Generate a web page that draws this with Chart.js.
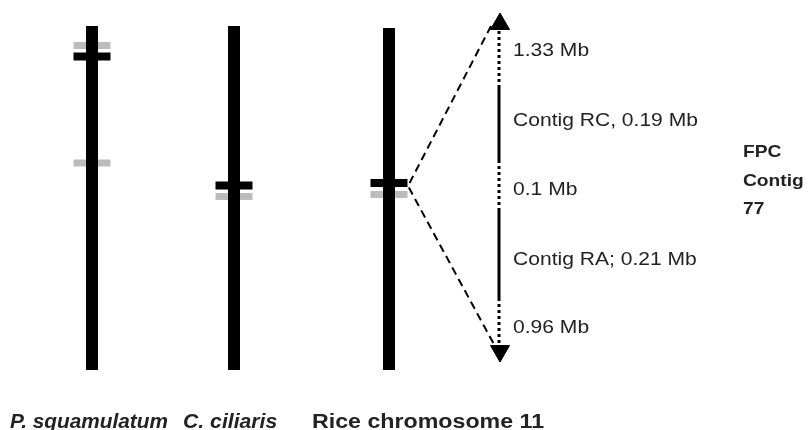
<!DOCTYPE html>
<html>
<head>
<meta charset="utf-8">
<script src="https://cdn.jsdelivr.net/npm/chart.js@4/dist/chart.umd.min.js"></script>
<style>
  body { margin: 0; background: #fff; }
  #wrap { width: 809px; height: 430px; position: relative; }
</style>
</head>
<body>
<div id="wrap"><canvas id="c"></canvas></div>
<script>
// chromosomes (map coordinates, y grows downward)
const chromNames = ['P. squamulatum', 'C. ciliaris', 'Rice chromosome 11'];
const chromX = [92, 234, 389];
const chromTop = [26, 26, 28];
const chromBottom = [370, 370, 370];

// marker bands on the chromosomes
const bandChrom = [0, 0, 0, 1, 1, 2, 2];
const bandY = [45.5, 56.5, 163, 185.5, 196.5, 183, 194.5];
const bandKind = ['gray', 'black', 'gray', 'black', 'gray', 'black', 'gray'];

// FPC contig 77 expanded on the right
const mapX = 499;
const segStart = [31, 88, 160, 210, 298];
const segEnd = [88, 160, 210, 298, 346];
const segKind = ['gap', 'contig', 'gap', 'contig', 'gap'];
const segLabel = ['1.33 Mb', 'Contig RC, 0.19 Mb', '0.1 Mb', 'Contig RA; 0.21 Mb', '0.96 Mb'];
const segLabelY = [56, 126, 195, 265, 333];

const ctx = document.getElementById('c');
const datasets = [];

// chromosome bodies
chromX.forEach((x, i) => {
  datasets.push({
    data: [{x: x, y: chromTop[i]}, {x: x, y: chromBottom[i]}],
    showLine: true, borderColor: '#000', borderWidth: 12, borderCapStyle: 'butt',
    pointRadius: 0
  });
});

// bands
bandY.forEach((y, i) => {
  const x = chromX[bandChrom[i]];
  const gray = bandKind[i] == 'gray';
  datasets.push({
    data: [{x: x - 18.5, y: y}, {x: x + 18.5, y: y}],
    showLine: true, borderColor: gray ? '#bcbcbc' : '#000', borderWidth: gray ? 7 : 8,
    borderCapStyle: 'butt', pointRadius: 0
  });
});

// dashed lines from rice band to the contig map
const fromX = chromX[2] + 19, fromY = bandY[5] + 3;
datasets.push({
  data: [{x: 491, y: 26}, {x: fromX, y: fromY}, {x: 496, y: 348}],
  showLine: true, borderColor: '#000', borderWidth: 2, borderDash: [8, 5],
  pointRadius: 0
});

// contig map segments
segStart.forEach((s, i) => {
  const gap = segKind[i] == 'gap';
  datasets.push({
    data: [{x: mapX, y: s}, {x: mapX, y: segEnd[i]}],
    showLine: true, borderColor: '#000', borderWidth: 3,
    borderDash: gap ? [3, 3] : [], borderCapStyle: 'butt', pointRadius: 0
  });
});

// arrow heads
datasets.push({
  data: [{x: mapX + 1, y: 24}, {x: mapX + 1, y: 351}],
  pointStyle: 'triangle', pointRadius: 11, rotation: [0, 180],
  backgroundColor: '#000', borderColor: '#000', borderWidth: 1, showLine: false
});

const labels = [];
segLabel.forEach((t, i) => labels.push({t: t, x: 513, y: segLabelY[i], font: '18px "Liberation Sans", Arial', sx: 1.17}));
['FPC', 'Contig', '77'].forEach((t, i) => labels.push({t: t, x: 743, y: 157 + i * 28.5, font: 'bold 17px "Liberation Sans", Arial', sx: 1.13}));
labels.push({t: chromNames[0], x: 10, y: 428, font: 'italic bold 20px "Liberation Sans", Arial', sx: 1.04});
labels.push({t: chromNames[1], x: 183, y: 428, font: 'italic bold 20px "Liberation Sans", Arial', sx: 1.06});
labels.push({t: chromNames[2], x: 312, y: 428, font: 'bold 20px "Liberation Sans", Arial', sx: 1.16});

const textPlugin = {
  id: 'texts',
  afterDatasetsDraw(chart) {
    const c = chart.ctx, xs = chart.scales.x, ys = chart.scales.y;
    c.save();
    c.fillStyle = '#222';
    c.textBaseline = 'alphabetic';
    labels.forEach(l => {
      c.save();
      c.translate(xs.getPixelForValue(l.x), ys.getPixelForValue(l.y));
      c.scale(l.sx, 1);
      c.font = l.font;
      c.fillText(l.t, 0, 0);
      c.restore();
    });
    c.restore();
  }
};

new Chart(ctx, {
  type: 'scatter',
  data: {datasets: datasets},
  options: {
    responsive: true,
    maintainAspectRatio: false,
    animation: false,
    layout: {padding: 0, autoPadding: false},
    plugins: {legend: {display: false}, tooltip: {enabled: false}},
    elements: {line: {tension: 0, fill: false}},
    scales: {
      x: {type: 'linear', min: 0, max: 809, display: false},
      y: {type: 'linear', min: 0, max: 430, reverse: true, display: false}
    }
  },
  plugins: [textPlugin]
});
</script>
</body>
</html>
